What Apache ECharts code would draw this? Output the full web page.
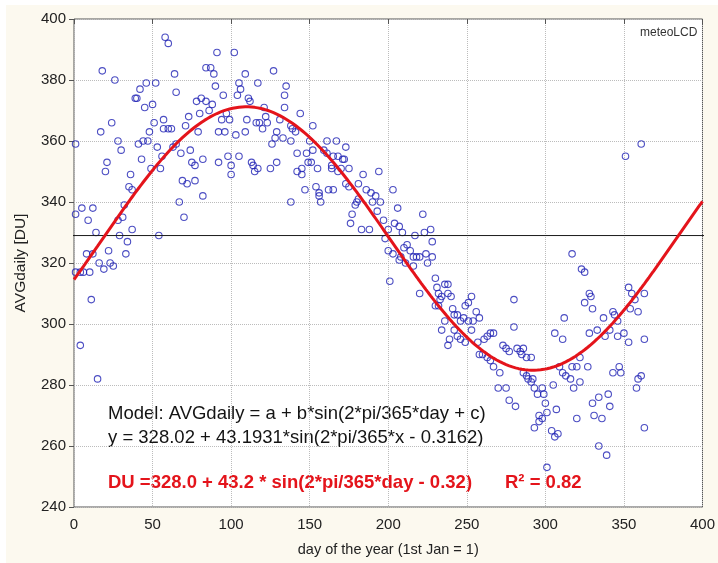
<!DOCTYPE html>
<html>
<head>
<meta charset="utf-8">
<script src="https://cdn.jsdelivr.net/npm/echarts@6/dist/echarts.min.js"></script>
<style>
  html, body { margin: 0; padding: 0; background: #ffffff; }
  #frame { position: absolute; left: 6px; top: 5px; right: 0; bottom: 0; background: #fcf9ef; }
  #chart { position: absolute; left: 0; top: 0; width: 718px; height: 563px; }
</style>
</head>
<body>
<div id="frame"></div>
<div id="chart"></div>
<script>
// Daily mean total ozone column (Dobson units) against day of the year
const dayOfYear = [
  1,1,4,1,4,6,8,10,11,12,
  9,5,12,14,15,18,26,24,17,28,
  30,21,20,36,35,37,32,31,28,37,
  29,34,22,33,16,23,19,25,39,40,
  42,46,52,45,50,51,57,48,47,44,
  41,53,43,49,55,58,60,57,60,62,
  54,56,64,65,63,65,68,69,72,67,
  70,73,71,74,75,77,77,78,81,80,
  82,82,84,86,84,87,89,90,91,95,
  92,94,96,97,92,98,100,100,88,99,
  79,
  102,105,106,109,104,103,105,109,110,111,
  112,113,114,115,117,117,116,118,120,121,
  122,123,125,127,126,128,129,129,131,133,
  134,135,134,138,138,138,139,141,142,144,
  142,145,145,147,148,149,151,152,152,154,
  155,156,156,157,161,159,161,162,165,164,
  164,165,167,168,168,170,171,172,173,173,
  175,175,176,177,179,180,150,
  181,184,186,189,192,194,190,195,193,197,
  200,181,183,188,203,206,204,207,209,222,
  223,227,217,228,200,203,212,210,208,214,
  216,218,220,224,225,228,230,211,198,201,
  207,216,220,231,232,234,236,238,233,232,
  230,236,234,239,238,
  238,241,244,242,246,248,249,251,253,251,
  253,254,256,258,244,246,249,257,258,260,
  261,263,265,267,263,265,267,271,270,275,
  277,281,273,275,277,282,284,286,285,288,
  291,280,280,286,288,289,291,293,295,296,
  296,293,242,240,
  301,304,306,308,307,305,301,300,299,298,
  298,292,306,311,312,309,311,313,316,317,
  318,320,322,322,320,327,325,328,330,329,
  328,333,337,338,341,343,346,346,350,353,
  343,347,348,330,334,340,341,331,336,334,
  339,353,355,357,354,359,363,363,361,359,
  358,363,351,361,317,323,325,344
];
const avgDaily = [
  359,336,293,317,317,317,323,317,308,323,
  334,338,338,330,282,383,380,366,363,360,
  357,353,350,349,345,344,339,335,334,331,
  329,327,324,323,320,320,318,319,374,374,
  377,379,379,371,372,366,367,363,360,360,
  359,358,354,351,351,394,392,364,364,364,
  329,355,382,376,358,359,356,347,346,340,
  335,368,365,357,353,352,347,373,374,369,
  354,342,373,370,384,384,382,378,389,375,
  363,367,363,369,353,355,352,349,372,367,
  363,
  389,379,377,382,375,362,355,363,367,374,
  373,353,352,350,351,379,366,366,364,371,
  368,366,351,383,359,361,363,353,367,361,
  375,378,371,340,365,360,364,363,356,369,
  350,351,349,344,356,353,353,365,357,345,
  351,343,342,340,360,357,356,344,344,352,
  351,355,360,355,350,351,354,354,358,346,
  345,351,333,336,339,340,360,
  346,349,344,343,342,350,340,340,337,334,
  331,341,331,331,344,338,333,332,330,336,
  330,331,329,327,324,323,326,325,322,324,
  322,322,322,323,320,322,315,320,328,314,
  321,319,310,312,310,309,313,310,308,306,
  306,301,298,295,293,
  313,305,303,298,301,302,306,307,309,301,
  298,301,304,302,296,295,294,294,290,290,
  295,296,297,297,289,288,286,284,279,279,
  275,273,293,292,291,292,291,292,290,289,
  289,308,299,284,283,282,281,279,277,270,
  268,266,303,309,
  253,265,263,264,272,280,271,274,277,279,
  269,282,297,295,302,286,284,283,282,286,
  279,286,289,281,269,286,307,310,305,309,
  297,298,302,296,298,304,301,296,297,294,
  284,286,284,274,276,277,273,270,269,260,
  257,312,310,308,305,304,310,295,283,282,
  279,266,355,359,323,318,317,303
];

// Fitted model parameters: AVGdaily = a + b*sin(2*pi/365*day + c)
const fitA = 328.02;
const fitB = 43.1931;
const fitC = -0.3162;
const rSquared = 0.82;
// Reference level drawn as a horizontal rule
const referenceLevel = 329;
const referenceSpan = [-7, 407];

const xTicks = { min: 0, max: 400, step: 50 };
const yTicks = { min: 240, max: 400, step: 20 };

const FONT = '"Liberation Sans", Arial, Helvetica, sans-serif';

const points = dayOfYear.map((d, i) => [d, avgDaily[i]]);

const modelCurve = [];
for (let d = xTicks.min; d <= xTicks.max; d += 1) {
  modelCurve.push([d, fitA + fitB * Math.sin(2 * Math.PI / 365 * d + fitC)]);
}

const sign = fitC < 0 ? '-' : '+';
const modelText = 'Model: AVGdaily = a + b*sin(2*pi/365*day + c)';
const fitText = 'y = ' + fitA.toFixed(2) + ' + ' + fitB.toFixed(4) +
  '*sin(2*pi/365*x ' + sign + ' ' + Math.abs(fitC).toFixed(4) + ')';
const duText = 'DU =' + fitA.toFixed(1) + ' + ' + fitB.toFixed(1) +
  ' * sin(2*pi/365*day ' + sign + ' ' + Math.abs(fitC).toFixed(2) + ')';
const r2Text = 'R\u00B2 = ' + rSquared.toFixed(2);

const chart = echarts.init(document.getElementById('chart'), null, { renderer: 'canvas' });

const labelStyle = { fontSize: 15, color: '#222', fontFamily: FONT };
const dotted = { show: true, lineStyle: { type: 'dotted', color: '#bcbcbc', width: 1 } };

chart.setOption({
  animation: false,
  backgroundColor: 'transparent',
  grid: {
    left: 74, top: 19, width: 633, height: 488,
    show: true, backgroundColor: '#ffffff', borderColor: '#555555', borderWidth: 1
  },
  xAxis: [
    {
      type: 'value', min: xTicks.min, max: xTicks.max, interval: xTicks.step,
      position: 'bottom',
      axisLine: { show: false }, axisTick: { show: false },
      axisLabel: Object.assign({ margin: 10 }, labelStyle),
      splitLine: dotted,
      name: 'day of the year (1st Jan = 1)', nameLocation: 'middle', nameGap: 35,
      nameTextStyle: { fontSize: 14.5, color: '#222', fontFamily: FONT }
    },
    {
      type: 'value', min: xTicks.min, max: xTicks.max, interval: xTicks.step,
      position: 'top',
      axisLine: { show: false },
      axisTick: { show: true, inside: true, length: 5, lineStyle: { color: '#555555' } },
      axisLabel: { show: false }, splitLine: { show: false }
    }
  ],
  yAxis: [
    {
      type: 'value', min: yTicks.min, max: yTicks.max, interval: yTicks.step,
      position: 'left',
      axisLine: { show: false },
      axisTick: { show: true, length: 5, lineStyle: { color: '#555555' } },
      axisLabel: Object.assign({ margin: 8 }, labelStyle),
      splitLine: dotted,
      name: 'AVGdaily [DU]', nameLocation: 'middle', nameGap: 45,
      nameTextStyle: { fontSize: 15.5, color: '#222', fontFamily: FONT }
    },
    {
      type: 'value', min: yTicks.min, max: yTicks.max, interval: yTicks.step,
      position: 'right',
      axisLine: { show: false },
      axisTick: { show: true, inside: true, length: 5, lineStyle: { color: '#555555' } },
      axisLabel: { show: false }, splitLine: { show: false }
    }
  ],
  series: [
    {
      name: 'AVGdaily', type: 'scatter', data: points,
      symbol: 'circle', symbolSize: 6.5,
      itemStyle: { color: 'rgba(255,255,255,0)', borderColor: '#1f22b4', borderWidth: 1.1 },
      z: 2
    },
    {
      name: 'reference', type: 'line',
      data: referenceSpan.map(d => [d, referenceLevel]),
      clip: false, showSymbol: false, symbol: 'none',
      lineStyle: { color: '#1a1a1a', width: 1 }, z: 3
    },
    {
      name: 'model', type: 'line', data: modelCurve,
      showSymbol: false, symbol: 'none', smooth: false,
      lineStyle: { color: '#e4141b', width: 3 }, z: 4
    }
  ],
  graphic: [
    { type: 'text', left: 640, top: 27, style: { text: 'meteoLCD', fontSize: 12, fill: '#333', fontFamily: FONT } },
    { type: 'text', left: 108, top: 404, style: { text: modelText, fontSize: 18.5, fill: '#141414', fontFamily: FONT } },
    { type: 'text', left: 108, top: 428, style: { text: fitText, fontSize: 18.5, fill: '#141414', fontFamily: FONT } },
    { type: 'text', left: 108, top: 473, style: { text: duText, fontSize: 18.5, fontWeight: 'bold', fill: '#e4141b', fontFamily: FONT } },
    { type: 'text', left: 505, top: 473, style: { text: r2Text, fontSize: 18.5, fontWeight: 'bold', fill: '#e4141b', fontFamily: FONT } }
  ]
});
</script>
</body>
</html>
